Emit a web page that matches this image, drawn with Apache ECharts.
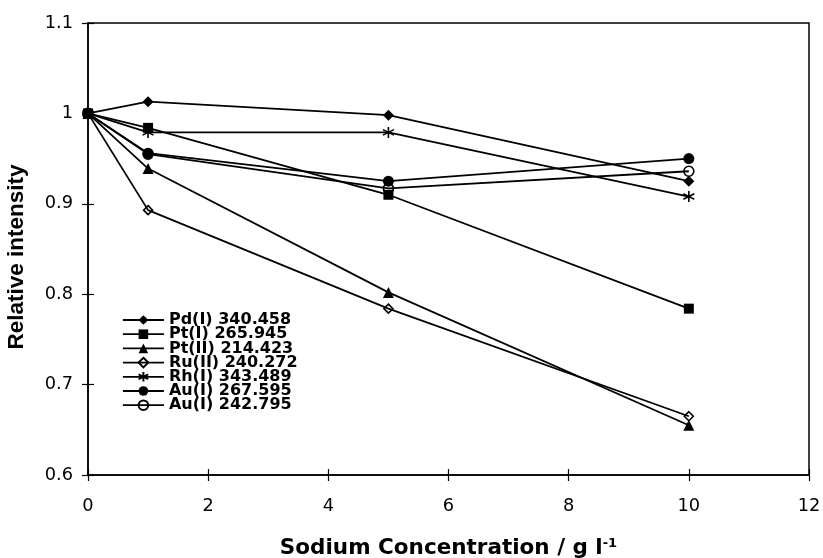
<!DOCTYPE html>
<html>
<head>
<meta charset="utf-8">
<script src="https://cdn.jsdelivr.net/npm/echarts@6/dist/echarts.min.js"></script>
<style>
  html, body { margin: 0; padding: 0; background: #fff; }
  #chart { width: 823px; height: 558px; }
</style>
</head>
<body>
<div id="chart"></div>
<script>
// Sodium concentration (g/l) at which each emission line was measured
const concentrations = [0, 1, 5, 10];

// Relative intensity of each emission line
const pdI340 = [1.000, 1.013, 0.998, 0.925];
const ptI265 = [1.000, 0.984, 0.910, 0.784];
const ptII214 = [1.000, 0.939, 0.802, 0.655];
const ruII240 = [1.000, 0.893, 0.784, 0.665];
const rhI343 = [1.000, 0.979, 0.979, 0.908];
const auI267 = [1.000, 0.956, 0.925, 0.950];
const auI242 = [1.000, 0.955, 0.917, 0.936];

const seriesNames = [
  'Pd(I) 340.458', 'Pt(I) 265.945', 'Pt(II) 214.423', 'Ru(II) 240.272',
  'Rh(I) 343.489', 'Au(I) 267.595', 'Au(I) 242.795'
];
const seriesValues = [pdI340, ptI265, ptII214, ruII240, rhI343, auI267, auI242];

const WIDE = '"DejaVu Sans", sans-serif';
const ARIAL = '"Liberation Sans", Arial, sans-serif';
const asterisk = 'path://M5,0L5,10M0.67,2.5L9.33,7.5M0.67,7.5L9.33,2.5';

// marker style per series: [symbol, size, filled, z]
const markers = [
  ['diamond', 11, true, 2],
  ['rect', 10, true, 3],
  ['triangle', 11, true, 2],
  ['diamond', 9, false, 2],
  [asterisk, 11, false, 2],
  ['circle', 11, true, 2],
  ['circle', 10, false, 2]
];

const series = seriesNames.map((name, i) => {
  const [symbol, size, filled, z] = markers[i];
  return {
    name,
    type: 'line',
    xAxisIndex: 0,
    yAxisIndex: 0,
    z,
    data: concentrations.map((c, j) => [c, seriesValues[i][j]]),
    symbol,
    symbolSize: size,
    showAllSymbol: true,
    lineStyle: { color: '#000', width: 1.8 },
    itemStyle: {
      color: filled ? '#000' : 'rgba(255,255,255,0)',
      borderColor: '#000',
      borderWidth: filled ? 0 : 1.6
    },
    emphasis: { disabled: true },
    animation: false
  };
});

const xCommon = { type: 'value', min: 0, max: 12, interval: 2, gridIndex: 0 };
const yCommon = { type: 'value', min: 0.6, max: 1.1, interval: 0.1, gridIndex: 0 };

const chart = echarts.init(document.getElementById('chart'), null, { renderer: 'canvas' });
chart.setOption({
  backgroundColor: '#fff',
  animation: false,
  grid: {
    left: 88, top: 23, right: 14, bottom: 83,
    outerBoundsMode: 'none',
    containLabel: false,
    show: true, borderColor: '#000', borderWidth: 1.5, backgroundColor: 'transparent'
  },
  legend: {
    orient: 'vertical',
    left: 117,
    top: 307,
    itemWidth: 41,
    itemHeight: 12,
    itemGap: -1.8,
    selectedMode: false,
    lineStyle: { width: 1.8 },
    textStyle: { fontFamily: WIDE, fontSize: 16, fontWeight: 'bold', color: '#000', lineHeight: 14 },
    data: seriesNames
  },
  xAxis: [
    Object.assign({}, xCommon, {
      position: 'bottom',
      name: 'Sodium Concentration / g l{sup|-1}',
      nameLocation: 'middle',
      nameGap: 62,
      nameTextStyle: {
        fontFamily: WIDE, fontSize: 21.5, fontWeight: 'bold', color: '#000',
        rich: { sup: { fontFamily: WIDE, fontSize: 13, fontWeight: 'bold', verticalAlign: 'top', padding: [0, 0, 10, 0] } }
      },
      axisLine: { show: true, onZero: false, lineStyle: { color: '#000', width: 1.5 } },
      axisTick: { show: true, inside: false, length: 6, lineStyle: { color: '#000', width: 1.2 } },
      axisLabel: { fontFamily: WIDE, fontSize: 17.8, color: '#000', margin: 22 },
      splitLine: { show: false }
    }),
    Object.assign({}, xCommon, {
      position: 'bottom',
      axisLine: { show: false },
      axisTick: { show: true, inside: true, length: 6, lineStyle: { color: '#000', width: 1.2 } },
      axisLabel: { show: false },
      splitLine: { show: false }
    })
  ],
  yAxis: [
    Object.assign({}, yCommon, {
      position: 'left',
      name: 'Relative intensity',
      nameLocation: 'middle',
      nameGap: 60,
      nameTextStyle: { fontFamily: ARIAL, fontSize: 22.5, fontWeight: 'bold', color: '#000', padding: [0, 16, 0, 0] },
      axisLine: { show: true, onZero: false, lineStyle: { color: '#000', width: 1.5 } },
      axisTick: { show: true, inside: false, length: 6, lineStyle: { color: '#000', width: 1.2 } },
      axisLabel: {
        fontFamily: WIDE, fontSize: 17.8, color: '#000', margin: 15,
        formatter: v => String(+v.toFixed(1))
      },
      splitLine: { show: false }
    }),
    Object.assign({}, yCommon, {
      position: 'left',
      axisLine: { show: false },
      axisTick: { show: true, inside: true, length: 6, lineStyle: { color: '#000', width: 1.2 } },
      axisLabel: { show: false },
      splitLine: { show: false }
    })
  ],
  series
});
</script>
</body>
</html>
